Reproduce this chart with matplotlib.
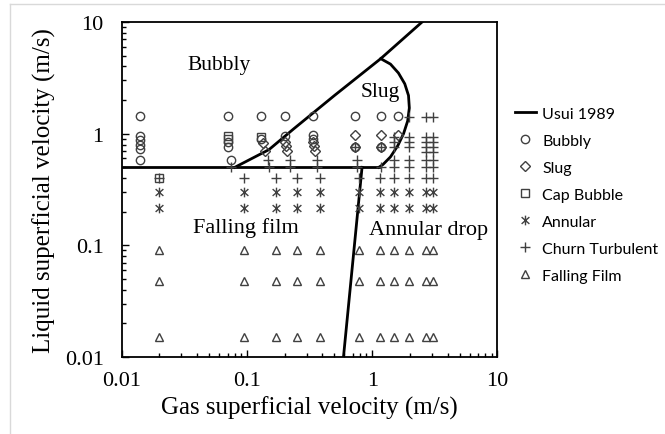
import matplotlib
matplotlib.use("Agg")
import matplotlib.pyplot as plt
from matplotlib.lines import Line2D
from matplotlib.path import Path

# Usui 1989 flow pattern boundaries (gas velocity, liquid velocity)
usui_horiz_x = [0.01, 1.13]
usui_horiz_y = [0.5, 0.5]
usui_diag_x = [0.08, 0.15, 0.235, 0.5, 1.17, 2.5]
usui_diag_y = [0.5, 0.72, 1.1, 2.2, 4.7, 10.0]
usui_slug_x = [1.17, 1.4, 1.62, 1.82, 1.95, 1.98, 1.92, 1.78, 1.6, 1.4, 1.22, 1.13]
usui_slug_y = [4.7, 4.2, 3.5, 2.8, 2.2, 1.7, 1.3, 1.0, 0.78, 0.62, 0.53, 0.5]
usui_film_x = [0.59, 0.83]
usui_film_y = [0.01, 0.5]

# measured points
bubbly_x = [0.014, 0.014, 0.014, 0.014, 0.014, 0.014,
            0.07, 0.07, 0.07, 0.075,
            0.13, 0.13, 0.2, 0.2, 0.34, 0.34, 0.34,
            0.73, 0.73, 1.17, 1.17, 1.6]
bubbly_y = [1.45, 0.95, 0.87, 0.8, 0.73, 0.58,
            1.45, 0.85, 0.76, 0.58,
            1.43, 0.9, 1.43, 0.95, 1.43, 0.97, 0.9,
            1.43, 0.76, 1.43, 0.76, 1.43]

slug_x = [0.135, 0.14, 0.2, 0.205, 0.21, 0.34, 0.345, 0.35, 0.73, 0.73, 1.17, 1.17, 1.6]
slug_y = [0.82, 0.7, 0.84, 0.77, 0.7, 0.85, 0.77, 0.7, 0.97, 0.76, 0.97, 0.76, 0.97]

cap_x = [0.02, 0.07, 0.07, 0.13]
cap_y = [0.4, 0.96, 0.9, 0.93]

film_cols = [0.02, 0.095, 0.17, 0.25, 0.38, 0.78, 1.16, 1.48, 1.95, 2.7, 3.08]
annular_rows = [0.3, 0.215]
film_rows = [0.09, 0.048, 0.015]

churn_x = ([0.02, 0.095, 0.17, 0.25, 0.38, 0.78, 1.16, 1.48, 1.95, 2.7, 3.08]
           + [0.075, 0.15, 0.22, 0.36, 0.76, 1.17, 1.5, 1.95, 2.7, 3.08]
           + [0.147, 0.22, 0.36, 0.76, 1.5, 1.95, 2.7, 3.08]
           + [0.73, 1.17, 1.5, 1.95, 2.7, 3.08]
           + [1.5, 1.95, 2.7, 3.08]
           + [1.5, 1.95, 2.7, 3.08]
           + [2.7, 3.08]
           + [1.95, 2.7, 3.08])
churn_y = ([0.4] * 11
           + [0.5] * 10
           + [0.58] * 8
           + [0.76] * 6
           + [0.84] * 4
           + [0.93] * 4
           + [0.68] * 2
           + [1.4] * 3)

ann_x = [c for c in film_cols for r in annular_rows]
ann_y = [r for c in film_cols for r in annular_rows]
ff_x = [c for c in film_cols for r in film_rows]
ff_y = [r for c in film_cols for r in film_rows]

serif = "Liberation Serif"

# excel style star marker: x with a vertical bar
star = Path([(0, -1), (0, 1), (-0.8, -0.7), (0.8, 0.7), (-0.8, 0.7), (0.8, -0.7)],
            [Path.MOVETO, Path.LINETO] * 3)

fig = plt.figure(figsize=(6.65, 4.35), dpi=100)
ax = fig.add_axes([0.183, 0.177, 0.565, 0.770])

lw = 2.0
ax.plot(usui_horiz_x, usui_horiz_y, color="black", lw=lw, label="Usui 1989")
ax.plot(usui_diag_x, usui_diag_y, color="black", lw=lw)
ax.plot(usui_slug_x, usui_slug_y, color="black", lw=lw)
ax.plot(usui_film_x, usui_film_y, color="black", lw=lw)

mk = dict(linestyle="none", markerfacecolor="none", markeredgecolor="#404040",
          markeredgewidth=1.0, color="#404040")
ax.plot(bubbly_x, bubbly_y, marker="o", markersize=6, label="Bubbly", **mk)
ax.plot(slug_x, slug_y, marker="D", markersize=5, label="Slug", **mk)
ax.plot(cap_x, cap_y, marker="s", markersize=5.5, label="Cap Bubble", **mk)
ax.plot(ann_x, ann_y, marker=star, markersize=7, label="Annular", **mk)
ax.plot(churn_x, churn_y, marker="+", markersize=7, label="Churn Turbulent", **mk)
ax.plot(ff_x, ff_y, marker="^", markersize=6, label="Falling Film", **mk)

ax.set_xscale("log")
ax.set_yscale("log")
ax.set_xlim(0.01, 10)
ax.set_ylim(0.01, 10)
ax.set_xticks([0.01, 0.1, 1, 10])
ax.set_xticklabels(["0.01", "0.1", "1", "10"])
ax.set_yticks([0.01, 0.1, 1, 10])
ax.set_yticklabels(["0.01", "0.1", "1", "10"])
ax.tick_params(which="both", direction="in", top=False, right=False)
ax.tick_params(which="major", length=5, width=1.0, labelsize=16)
ax.tick_params(axis="x", which="major", pad=10)
ax.tick_params(axis="y", which="major", pad=13)
ax.tick_params(which="minor", length=3, width=1.0)
for lab in ax.get_xticklabels() + ax.get_yticklabels():
    lab.set_family(serif)
for s in ax.spines.values():
    s.set_linewidth(1.3)

ax.set_xlabel("Gas superficial velocity (m/s)", family=serif, fontsize=18, labelpad=4)
ax.set_ylabel("Liquid superficial velocity (m/s)", family=serif, fontsize=18, labelpad=6)

ax.text(0.06, 4.2, "Bubbly", family=serif, fontsize=15.5, ha="center", va="center")
ax.text(1.17, 2.4, "Slug", family=serif, fontsize=15.5, ha="center", va="center")
ax.text(0.098, 0.146, "Falling film", family=serif, fontsize=16, ha="center", va="center")
ax.text(2.8, 0.14, "Annular drop", family=serif, fontsize=16, ha="center", va="center")

ax.legend(loc="center left", bbox_to_anchor=(0.765, 0.55), bbox_transform=fig.transFigure,
          frameon=False, prop={"family": "Lato", "size": 11.5}, handlelength=1.3,
          handletextpad=0.4, labelspacing=0.8, borderaxespad=0)

# light frame around the picture
fig.add_artist(Line2D([10 / 665, 1], [1 - 5 / 435, 1 - 5 / 435], color="#d9d9d9", lw=1))
fig.add_artist(Line2D([10 / 665, 10 / 665], [0, 1 - 5 / 435], color="#d9d9d9", lw=1))

fig.savefig("out.png", dpi=100)
